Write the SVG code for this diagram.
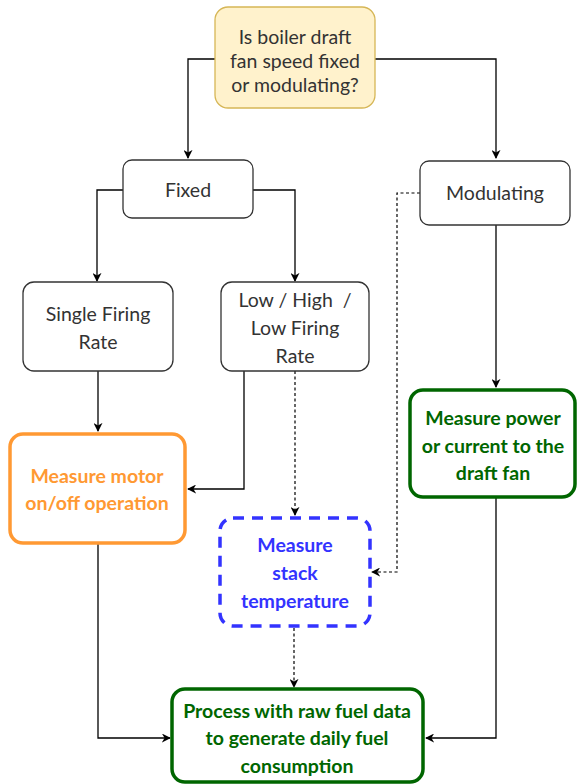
<svg xmlns="http://www.w3.org/2000/svg" width="577" height="784" viewBox="0 0 577 784">
<style>
.t{font-family:Lato,"Liberation Sans",sans-serif;font-size:19.5px;text-anchor:middle;fill:#333333}
.b{font-weight:bold;font-size:19.5px}
.plain{fill:#ffffff;stroke:#333333;stroke-width:1.3}
.c{fill:none;stroke:#000000;stroke-width:1.3}
.d{fill:none;stroke:#000000;stroke-width:1.2;stroke-dasharray:3,2.5}
</style>
<defs>
<marker id="ah" viewBox="0 0 10 10" refX="9" refY="5" markerWidth="9" markerHeight="9" markerUnits="userSpaceOnUse" orient="auto">
<path d="M0,0 L10,5 L0,10 L3,5 Z" fill="#000000"/>
</marker>
</defs>
<rect width="577" height="784" fill="#ffffff"/>
<g id="connectors">
<path class="c" d="M215,59 H188 V158" marker-end="url(#ah)"/>
<path class="c" d="M375,59 H496 V158" marker-end="url(#ah)"/>
<path class="c" d="M123,190 H97 V281" marker-end="url(#ah)"/>
<path class="c" d="M253,190 H295 V281" marker-end="url(#ah)"/>
<path class="c" d="M98,371 V431" marker-end="url(#ah)"/>
<path class="c" d="M244,371 V489 H188" marker-end="url(#ah)"/>
<path class="d" d="M295,371 V515" marker-end="url(#ah)"/>
<path class="d" d="M420,193 H397 V572 H372" marker-end="url(#ah)"/>
<path class="c" d="M496,225 V387" marker-end="url(#ah)"/>
<path class="d" d="M294,628 V687" marker-end="url(#ah)"/>
<path class="c" d="M98,544 V738 H170" marker-end="url(#ah)"/>
<path class="c" d="M496,498 V738 H426" marker-end="url(#ah)"/>
</g>
<g id="question">
<rect x="215" y="7" width="160" height="101" rx="13" fill="#fff2cc" stroke="#d6b656" stroke-width="1.3"/>
<text class="t" x="295" y="44">Is boiler draft</text>
<text class="t" x="295" y="68">fan speed fixed</text>
<text class="t" x="295" y="92">or modulating?</text>
</g>
<g id="fixed">
<rect class="plain" x="123" y="160" width="130" height="58" rx="9"/>
<text class="t" x="188" y="197">Fixed</text>
</g>
<g id="modulating">
<rect class="plain" x="420" y="161" width="150" height="64" rx="9"/>
<text class="t" x="495" y="200">Modulating</text>
</g>
<g id="single">
<rect class="plain" x="23" y="282" width="150" height="89" rx="11"/>
<text class="t" x="98" y="321">Single Firing</text>
<text class="t" x="98" y="349">Rate</text>
</g>
<g id="lowhigh">
<rect class="plain" x="221" y="282" width="148" height="89" rx="11"/>
<text class="t" x="295" y="307" xml:space="preserve">Low / High  /</text>
<text class="t" x="295" y="335">Low Firing</text>
<text class="t" x="295" y="363">Rate</text>
</g>
<g id="motor">
<rect x="10" y="434" width="175" height="109" rx="13" fill="#ffffff" stroke="#ff9933" stroke-width="3.5"/>
<text class="t b" x="97" y="483" style="fill:#ff9933">Measure motor</text>
<text class="t b" x="97" y="510" style="fill:#ff9933">on/off operation</text>
</g>
<g id="stack">
<rect x="220" y="518" width="150" height="108" rx="13" fill="#ffffff" stroke="#3333ff" stroke-width="3.5" stroke-dasharray="11,8"/>
<text class="t b" x="295" y="552" style="fill:#3333ff">Measure</text>
<text class="t b" x="295" y="580" style="fill:#3333ff">stack</text>
<text class="t b" x="295" y="608" style="fill:#3333ff">temperature</text>
</g>
<g id="power">
<rect x="410" y="390" width="165" height="107" rx="13" fill="#ffffff" stroke="#006600" stroke-width="3.5"/>
<text class="t b" x="493" y="425" style="fill:#006600">Measure power</text>
<text class="t b" x="493" y="453" style="fill:#006600">or current to the</text>
<text class="t b" x="493" y="480" style="fill:#006600">draft fan</text>
</g>
<g id="process">
<rect x="172" y="689" width="251" height="93" rx="13" fill="#ffffff" stroke="#006600" stroke-width="3.5"/>
<text class="t b" x="297" y="718" style="fill:#006600">Process with raw fuel data</text>
<text class="t b" x="297" y="745" style="fill:#006600">to generate daily fuel</text>
<text class="t b" x="297" y="773" style="fill:#006600">consumption</text>
</g>
</svg>
